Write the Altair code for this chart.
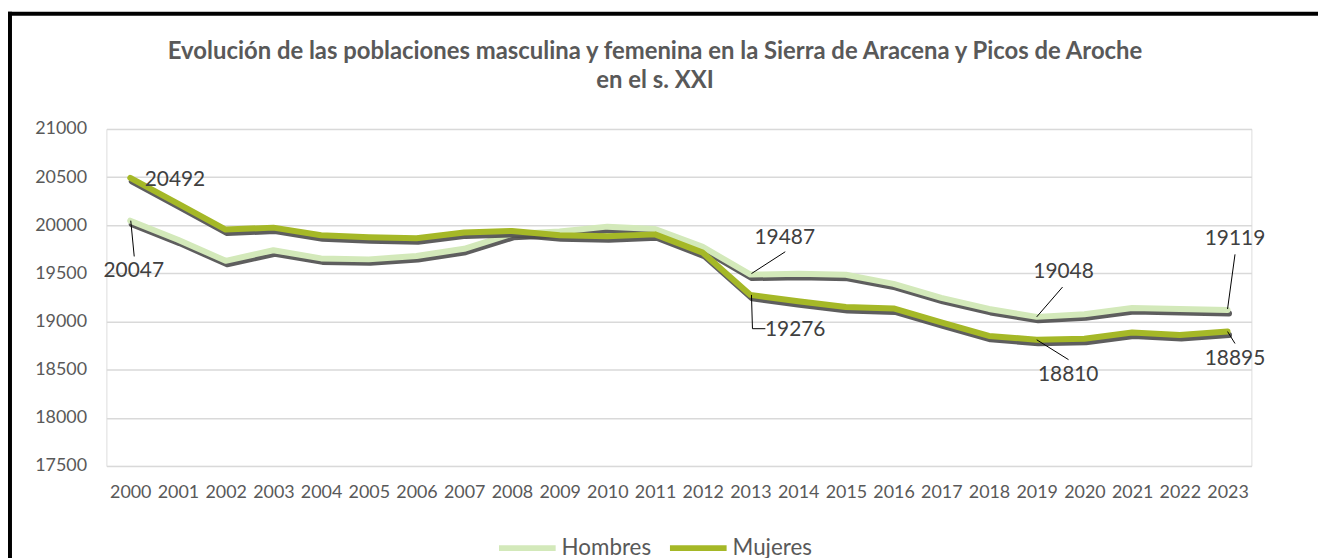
import altair as alt
import pandas as pd

years = list(range(2000, 2024))
hombres = [20047, 19850, 19630, 19740, 19655, 19645, 19680, 19755, 19910, 19935,
           19985, 19960, 19775, 19487, 19495, 19485, 19390, 19245, 19130, 19048,
           19075, 19140, 19130, 19119]
mujeres = [20492, 20225, 19955, 19975, 19895, 19875, 19865, 19925, 19940, 19895,
           19885, 19905, 19715, 19276, 19210, 19150, 19135, 18990, 18850, 18810,
           18820, 18885, 18860, 18895]
series_names = ["Hombres", "Mujeres"]
series_colors = ["#d3e9ba", "#a5b827"]
y_ticks = [17500, 18000, 18500, 19000, 19500, 20000, 20500, 21000]
title_lines = ["Evolución de las poblaciones masculina y femenina en la Sierra de Aracena y Picos de Aroche",
               "en el s. XXI"]

# labelled points: (series, year, text offset dx, dy in px, leader polyline offsets in px)
label_points = [
    ("Mujeres", 2000, 45, 2, []),
    ("Hombres", 2000, 3.5, 51, [(0.5, 0), (4, 36)]),
    ("Hombres", 2013, 34.5, -37, [(1, -1), (35, -23)]),
    ("Mujeres", 2013, 45, 35.5, [(1, 0), (2, 34), (15, 34)]),
    ("Hombres", 2019, 27, -44.7, [(0, 0), (26, -30)]),
    ("Mujeres", 2019, 31.7, 35.6, [(0, 0), (32, 20)]),
    ("Hombres", 2023, 7.5, -71, [(0, -1), (7.5, -56)]),
    ("Mujeres", 2023, 7.5, 28, [(0, 0), (7.5, 12)]),
]

PLOT_W, PLOT_H = 1152, 339
X_DOM = [1999.5, 2023.5]
Y_DOM = [17500, 21000]
px_per_year = PLOT_W / (X_DOM[1] - X_DOM[0])
units_per_px = (Y_DOM[1] - Y_DOM[0]) / PLOT_H

rows = []
for name, vals in zip(series_names, [hombres, mujeres]):
    for yr, v in zip(years, vals):
        rows.append({"year": yr, "value": v, "serie": name})
df = pd.DataFrame(rows)

lookup = {(r["serie"], r["year"]): r["value"] for r in rows}
lab_rows, lead_rows = [], []
for i, (s, yr, dx, dy, lead) in enumerate(label_points):
    v = lookup[(s, yr)]
    lab_rows.append({"year": yr, "value": v, "txt": str(v), "dx": dx, "dy": dy})
    for j, (ox, oy) in enumerate(lead):
        lead_rows.append({"id": i, "ord": j,
                          "lx": yr + ox / px_per_year,
                          "ly": v - oy * units_per_px})
lead_df = pd.DataFrame(lead_rows)

FONT = "Lato"
x_scale = alt.Scale(domain=X_DOM, nice=False, zero=False)
y_scale = alt.Scale(domain=Y_DOM, nice=False, zero=False)

base = alt.Chart(df)

x_enc = alt.X("year:Q", scale=x_scale,
              axis=alt.Axis(values=years, format="d", title=None, grid=False, ticks=False,
                            domain=False, labelFontSize=18, labelColor="#595959",
                            labelFont=FONT, labelPadding=18, labelFlush=False,
                            labelOverlap=False))
y_enc = alt.Y("value:Q", scale=y_scale,
              axis=alt.Axis(values=y_ticks, format="d", title=None, ticks=False, domain=False,
                            grid=True, gridColor="#d9d9d9", gridWidth=1.5,
                            labelFontSize=18, labelColor="#595959", labelFont=FONT,
                            labelPadding=20))

layers = []
for name, col in zip(series_names, series_colors):
    sub = base.transform_filter(alt.datum.serie == name)
    shadow = sub.transform_calculate(
        xs=f"datum.year + {1.5 / px_per_year}",
        ys=f"datum.value - {3.5 * units_per_px}"
    ).mark_line(color="#4d4d4d", strokeWidth=6, opacity=0.9, strokeJoin="round",
                strokeCap="round").encode(
        x=alt.X("xs:Q", scale=x_scale),
        y=alt.Y("ys:Q", scale=y_scale),
    )
    line = sub.mark_line(strokeWidth=6, strokeJoin="round", strokeCap="round").encode(
        x=x_enc if not layers else alt.X("year:Q", scale=x_scale),
        y=y_enc if not layers else alt.Y("value:Q", scale=y_scale),
        color=alt.Color("serie:N",
                        scale=alt.Scale(domain=series_names, range=series_colors),
                        legend=alt.Legend(title=None, orient="none", direction="horizontal",
                                          legendX=392, legendY=390,
                                          symbolType="stroke", symbolSize=3249,
                                          symbolStrokeWidth=6, labelFontSize=22.5,
                                          labelFont=FONT, labelColor="#595959",
                                          columnPadding=6, labelOffset=3)),
    )
    layers += [shadow, line]

leaders = alt.Chart(lead_df).mark_line(color="#000000", strokeWidth=1).encode(
    x=alt.X("lx:Q", scale=x_scale),
    y=alt.Y("ly:Q", scale=y_scale),
    detail="id:N",
    order="ord:Q",
)

labels = []
for r in lab_rows:
    labels.append(
        alt.Chart(pd.DataFrame([r])).mark_text(
            font=FONT, fontSize=21, color="#404040", dx=r["dx"], dy=r["dy"],
            align="center", baseline="middle"
        ).encode(
            x=alt.X("year:Q", scale=x_scale),
            y=alt.Y("value:Q", scale=y_scale),
            text="txt:N",
        )
    )

frame_df = pd.DataFrame({"a": [0]})
title_marks = []
for txt, yb in zip(title_lines, [-70, -41]):
    title_marks.append(
        alt.Chart(frame_df).mark_text(
            text=txt, font=FONT, fontSize=24, fontWeight="bold", color="#595959",
            align="center", baseline="alphabetic"
        ).encode(x=alt.value(552), y=alt.value(yb))
    )

top_border = alt.Chart(frame_df).mark_rule(color="#000000", strokeWidth=4).encode(
    x=alt.value(-99), x2=alt.value(1219), y=alt.value(-116))
left_border = alt.Chart(frame_df).mark_rule(color="#000000", strokeWidth=4).encode(
    x=alt.value(-97), y=alt.value(-118), y2=alt.value(440))

chart = alt.layer(*layers, leaders, *labels, *title_marks, top_border, left_border).properties(
    width=PLOT_W, height=PLOT_H,
    autosize=alt.AutoSizeParams(type="none"),
    padding={"left": 99, "top": 120, "right": 67, "bottom": 91},
).configure_view(stroke=None).configure(background="white")

chart.save("out.html", embed_options={"renderer": "svg", "actions": False})
